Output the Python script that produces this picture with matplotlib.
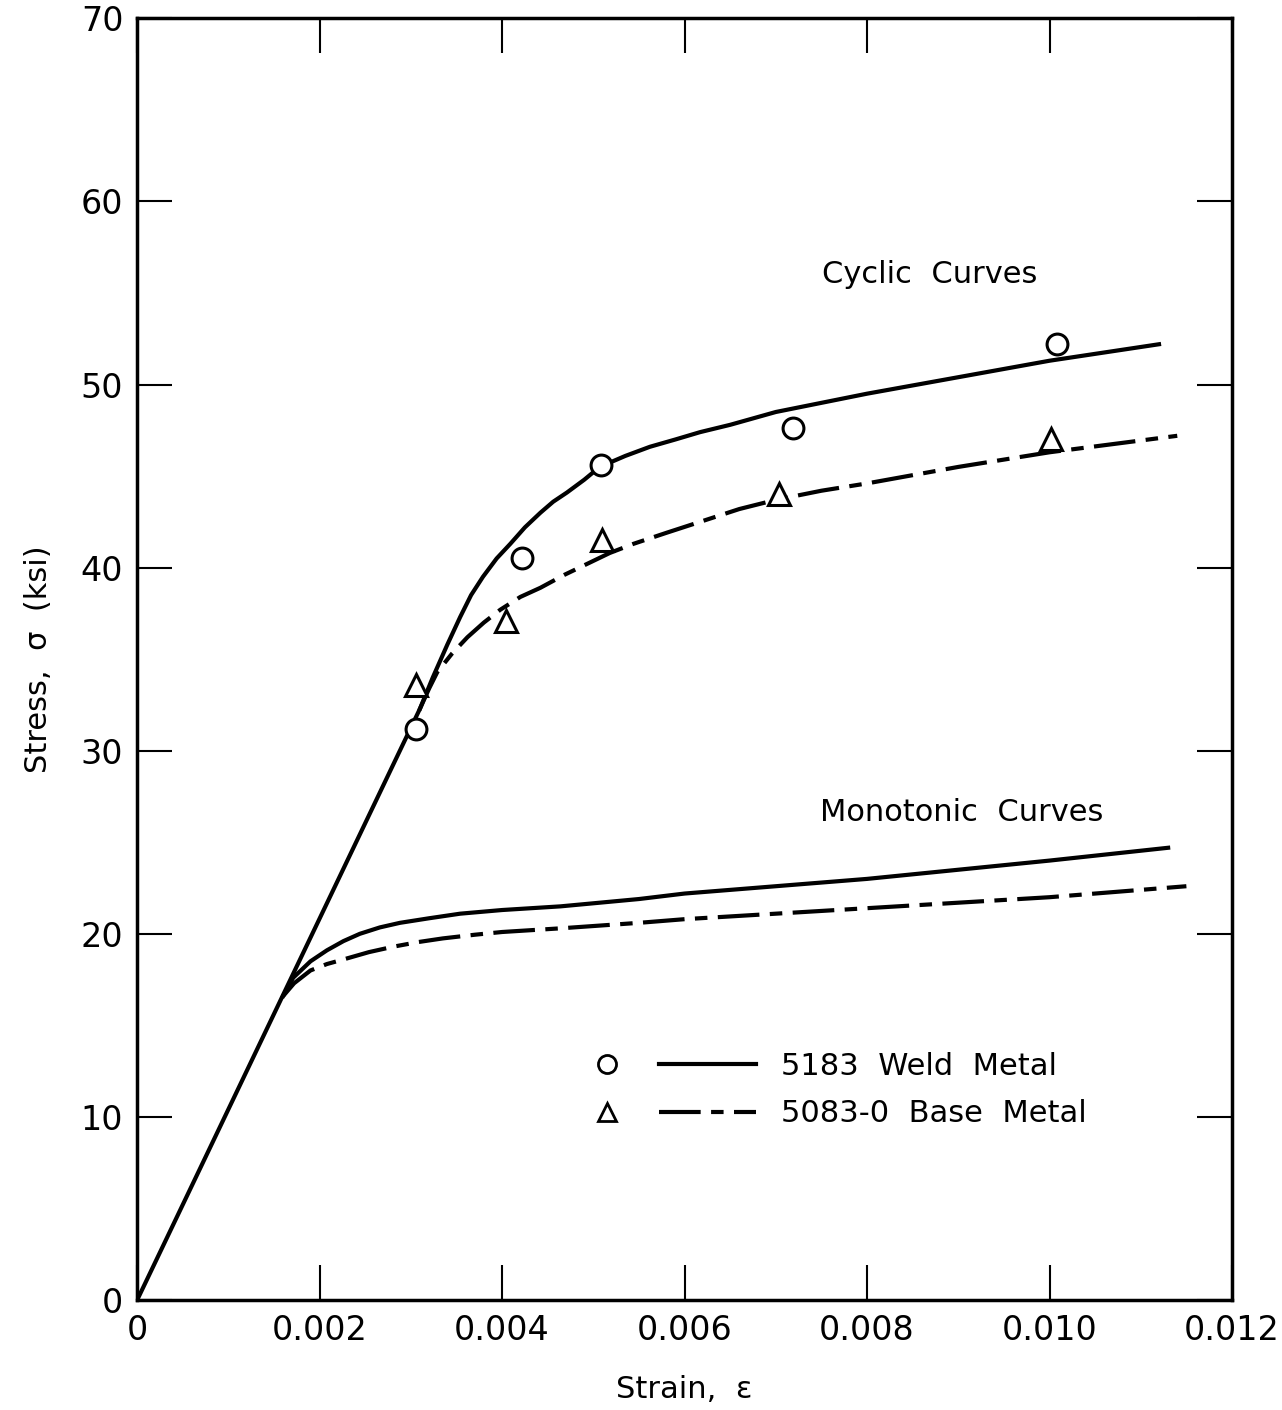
import matplotlib
matplotlib.use("Agg")
import matplotlib.pyplot as plt
from matplotlib.lines import Line2D
from matplotlib.legend_handler import HandlerTuple

# elastic line shared by all curves
elastic_x = [0.0, 0.0031]
elastic_y = [0.0, 32.3]

# cyclic curves
weld_cyc_x = [0.0031, 0.00324, 0.00340, 0.00354, 0.00366, 0.00379, 0.00394, 0.00409, 0.00425,
              0.00442, 0.00456, 0.00471, 0.00490, 0.00507, 0.00535, 0.00562, 0.00590, 0.00617,
              0.0065, 0.0070, 0.0075, 0.0080, 0.0090, 0.0100, 0.0112]
weld_cyc_y = [32.3, 34.0, 35.8, 37.3, 38.5, 39.5, 40.5, 41.3, 42.2,
              43.0, 43.6, 44.1, 44.8, 45.5, 46.1, 46.6, 47.0, 47.4,
              47.8, 48.5, 49.0, 49.5, 50.4, 51.3, 52.2]
base_cyc_x = [0.0031, 0.00320, 0.00329, 0.00345, 0.00362, 0.00380, 0.00398, 0.00420, 0.00442,
              0.00468, 0.00493, 0.00518, 0.00544, 0.00580, 0.00617, 0.0066, 0.0070,
              0.0075, 0.0080, 0.0090, 0.0100, 0.0114]
base_cyc_y = [32.3, 33.4, 34.3, 35.3, 36.2, 37.0, 37.7, 38.4, 38.9,
              39.6, 40.2, 40.8, 41.3, 41.9, 42.5, 43.2, 43.7,
              44.2, 44.6, 45.5, 46.3, 47.2]

# monotonic curves
weld_mono_x = [0.0016, 0.00171, 0.00190, 0.00208, 0.00226, 0.00244, 0.00266, 0.00288, 0.00320,
               0.00354, 0.0040, 0.00464, 0.0055, 0.0060, 0.0070, 0.0080, 0.0090, 0.0100, 0.0113]
weld_mono_y = [16.6, 17.6, 18.5, 19.1, 19.6, 20.0, 20.35, 20.6, 20.85,
               21.1, 21.3, 21.5, 21.9, 22.2, 22.6, 23.0, 23.5, 24.0, 24.7]
base_mono_x = [0.0016, 0.00172, 0.00190, 0.00208, 0.00226, 0.00254, 0.00281, 0.00308, 0.00335,
               0.00370, 0.0040, 0.00464, 0.0055, 0.0060, 0.0070, 0.0080, 0.0090, 0.0100, 0.0115]
base_mono_y = [16.6, 17.3, 18.0, 18.35, 18.6, 19.0, 19.3, 19.55, 19.75,
               19.95, 20.1, 20.3, 20.6, 20.8, 21.1, 21.4, 21.7, 22.0, 22.6]

# test points
weld_pts_x = [0.00306, 0.00422, 0.00508, 0.00719, 0.01008]
weld_pts_y = [31.2, 40.5, 45.6, 47.6, 52.2]
base_pts_x = [0.00306, 0.00404, 0.00510, 0.00704, 0.01002]
base_pts_y = [33.6, 37.1, 41.5, 44.0, 47.0]

x_ticks = [0, 0.002, 0.004, 0.006, 0.008, 0.010, 0.012]
x_labels = ["0", "0.002", "0.004", "0.006", "0.008", "0.010", "0.012"]
y_ticks = [0, 10, 20, 30, 40, 50, 60, 70]

dashdot = (0, (10, 2.5, 3, 2.5))
lw = 3.0

fig = plt.figure(figsize=(12.82, 14.10), dpi=100)
ax = fig.add_axes([0.107, 0.078, 0.854, 0.909])

ax.plot(elastic_x, elastic_y, color='k', lw=lw, solid_capstyle='butt')
ax.plot(weld_cyc_x, weld_cyc_y, color='k', lw=lw, solid_joinstyle='round')
ax.plot(base_cyc_x, base_cyc_y, color='k', lw=lw, linestyle=dashdot)
ax.plot(weld_mono_x, weld_mono_y, color='k', lw=lw, solid_joinstyle='round')
ax.plot(base_mono_x, base_mono_y, color='k', lw=lw, linestyle=dashdot)

ax.plot(weld_pts_x, weld_pts_y, linestyle='none', marker='o', ms=15, mfc='white',
        mec='k', mew=2.2, zorder=5)
ax.plot(base_pts_x, base_pts_y, linestyle='none', marker='^', ms=16, mfc='white',
        mec='k', mew=2.2, zorder=5)

ax.text(0.00869, 56.0, "Cyclic  Curves", fontsize=22, ha='center', va='center')
ax.text(0.00904, 26.6, "Monotonic  Curves", fontsize=22, ha='center', va='center')

h_circ = Line2D([], [], linestyle='none', marker='o', ms=13, mfc='white', mec='k', mew=2)
h_tri = Line2D([], [], linestyle='none', marker='^', ms=13, mfc='white', mec='k', mew=2)
h_solid = Line2D([], [], color='k', lw=lw)
h_dd = Line2D([], [], color='k', lw=lw, linestyle=dashdot)
ax.legend([(h_circ, h_solid), (h_tri, h_dd)],
          ["5183  Weld  Metal", "5083-0  Base  Metal"],
          handler_map={tuple: HandlerTuple(ndivide=None, pad=0.1)},
          loc='upper left', bbox_to_anchor=(0.359, 0.215), frameon=False,
          fontsize=22, handlelength=6.5, handletextpad=0.8, labelspacing=0.6)

ax.set_xlim(0, 0.012)
ax.set_ylim(0, 70)
ax.set_xticks(x_ticks)
ax.set_xticklabels(x_labels)
ax.set_yticks(y_ticks)
ax.tick_params(direction='in', length=25, width=1.5, labelsize=24,
               top=True, right=True, pad=10)
for s in ax.spines.values():
    s.set_linewidth(2.5)

ax.set_xlabel("Strain,  ε", fontsize=22, labelpad=20)
ax.set_ylabel("Stress,  σ  (ksi)", fontsize=22, labelpad=20)

fig.savefig("out.png", dpi=100)
